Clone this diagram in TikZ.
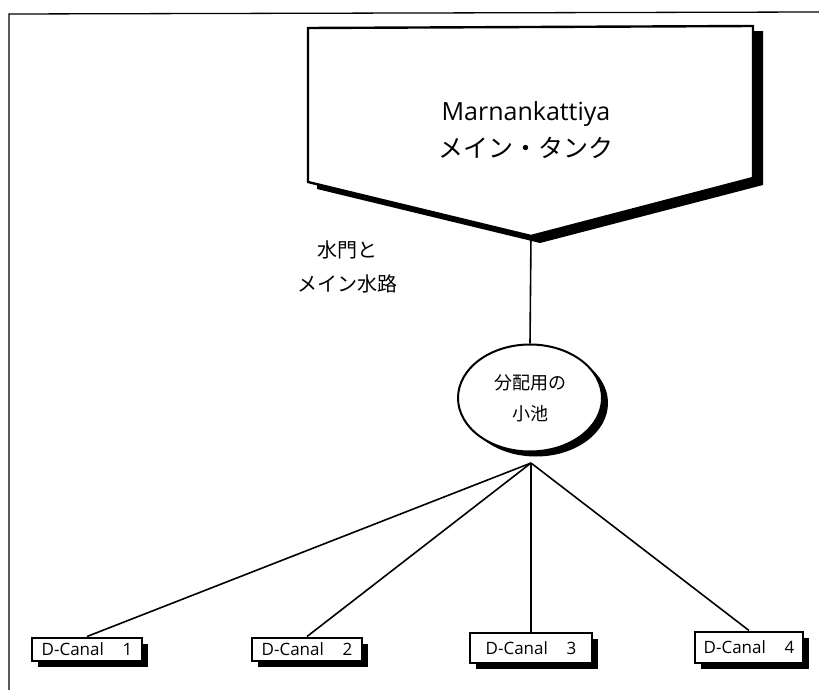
\documentclass[tikz,border=0pt]{standalone}
\usepackage{fontspec}
\setmainfont{Open Sans}
\newfontfamily\jpfont{Noto Sans CJK JP}
\usetikzlibrary{shapes.geometric,shadows}
\begin{document}
\begin{tikzpicture}[x=1pt,y=-1pt,
  thinline/.style={line width=1.6pt},
  heavyshadow/.style={drop shadow={fill=black,opacity=1,shadow xshift=6pt,shadow yshift=-6pt}},
  canal/.style={draw,line width=2pt,fill=white,inner sep=0pt,heavyshadow,
    font=\fontsize{17}{19}\selectfont},
  pool/.style={ellipse,draw,line width=2pt,fill=white,minimum width=144pt,minimum height=107pt,
    inner sep=0pt,align=center,font=\jpfont\fontsize{18}{31}\selectfont,
    drop shadow={fill=black,opacity=1,shadow xshift=6pt,shadow yshift=-5pt}},
  label/.style={align=center,inner sep=0pt,font=\jpfont\fontsize{20}{34}\selectfont}]
\useasboundingbox (0,0) rectangle (819,690);
% page frame (left and top rules only)
\draw[line width=1.3pt] (9,690) -- (9,14) -- (819,12);
% main tank: pentagon with a solid offset shadow
\fill[black] (317,35) -- (763,31) -- (763,185) -- (540,243) -- (317,189) -- cycle;
\draw[line width=2.4pt,fill=white,line join=miter] (308,28) -- (753,26) -- (753,178) -- (531,236) -- (308,182) -- cycle;
\coordinate (tip) at (531,236);
\node[align=center,inner sep=0pt,font=\fontsize{25}{37}\selectfont] (tank) at (526,130)
  {Marnankattiya\\{\jpfont メイン・タンク}};
% sluice label
\node[label] (gate) at (347,267) {水門と\\メイン水路};
% distribution pond
\node[pool] (pond) at (530,398) {分配用の\\小池};
\coordinate (hub) at (531,463);
\draw[thinline] (tip) -- (pond.north);
% distribution canals
\node[canal,minimum width=110pt,minimum height=23pt] (c1) at (87,649) {D-Canal\hspace{1.1em}1};
\node[canal,minimum width=110pt,minimum height=23pt] (c2) at (307,649) {D-Canal\hspace{1.1em}2};
\node[canal,minimum width=122pt,minimum height=30pt] (c3) at (531,648) {D-Canal\hspace{1.1em}3};
\node[canal,minimum width=108pt,minimum height=31pt] (c4) at (749,647) {D-Canal\hspace{1.1em}4};
\draw[thinline] (hub) -- (c1.north);
\draw[thinline] (hub) -- (c2.north);
\draw[thinline] (hub) -- (c3.north);
\draw[thinline] (hub) -- (c4.north);
\end{tikzpicture}
\end{document}
